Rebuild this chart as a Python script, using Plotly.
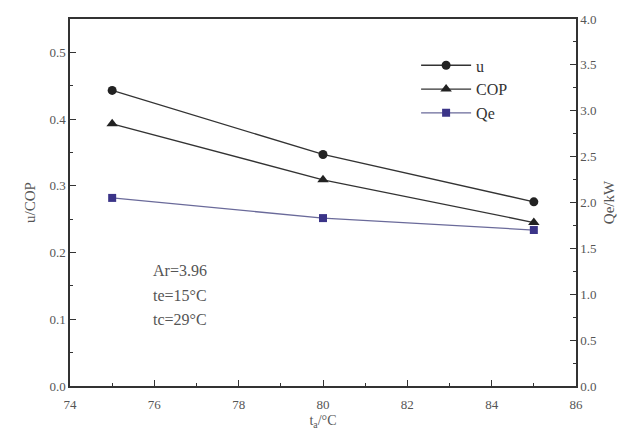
import plotly.graph_objects as go

ta = [75, 80, 85]
u_vals = [0.443, 0.347, 0.276]
cop_vals = [0.393, 0.309, 0.245]
qe_vals = [2.05, 1.83, 1.70]

font_family = "Liberation Serif"
fig = go.Figure()
fig.add_trace(go.Scatter(x=ta, y=u_vals, name="u", mode="lines+markers",
                         line=dict(color="#333333", width=1.3),
                         marker=dict(symbol="circle", size=9, color="#222222")))
fig.add_trace(go.Scatter(x=ta, y=cop_vals, name="COP", mode="lines+markers",
                         line=dict(color="#333333", width=1.3),
                         marker=dict(symbol="triangle-up", size=10, color="#222222")))
fig.add_trace(go.Scatter(x=ta, y=qe_vals, name="Qe", mode="lines+markers", yaxis="y2",
                         line=dict(color="#6a6a9a", width=1.3),
                         marker=dict(symbol="square", size=8, color="#3b3488")))

axis_common = dict(showline=True, linecolor="#333333", linewidth=1.5, ticks="inside",
                   ticklen=6, tickcolor="#333333", showgrid=False, zeroline=False,
                   tickfont=dict(family=font_family, size=13, color="#555555"))

fig.update_layout(
    width=634, height=438,
    margin=dict(l=70, r=58, t=14, b=50),
    paper_bgcolor="white", plot_bgcolor="white",
    font=dict(family=font_family, color="#444444"),
    xaxis=dict(range=[74, 86], dtick=2, mirror=True, ticklabelstandoff=6,
               minor=dict(dtick=1, ticks="inside", ticklen=3, tickcolor="#333333"),
               title=dict(text="t<sub>a</sub>/°C", font=dict(size=14, color="#555555"), standoff=4),
               **axis_common),
    yaxis=dict(range=[0, 0.55], dtick=0.1, tickformat=".1f",
               minor=dict(dtick=0.05, ticks="inside", ticklen=3, tickcolor="#333333"),
               title=dict(text="u/COP", font=dict(size=15, color="#555555"), standoff=10),
               **axis_common),
    yaxis2=dict(range=[0, 4], dtick=0.5, tickformat=".1f", overlaying="y", side="right",
                minor=dict(dtick=0.25, ticks="inside", ticklen=3, tickcolor="#333333"),
                title=dict(text="Qe/kW", font=dict(size=15, color="#555555"), standoff=8),
                **axis_common),
    legend=dict(x=0.684, y=0.92, xanchor="left", yanchor="top", bgcolor="rgba(0,0,0,0)",
                font=dict(family=font_family, size=16, color="#333333"),
                itemwidth=50, tracegroupgap=2),
    showlegend=True,
)

notes = ["Ar=3.96", "te=15°C", "tc=29°C"]
ys = [0.173, 0.136, 0.1]
for t, yv in zip(notes, ys):
    fig.add_annotation(x=76.6, y=yv, xref="x", yref="y", text=t, showarrow=False,
                       font=dict(family=font_family, size=16, color="#555555"))

fig.write_html("out.html")
